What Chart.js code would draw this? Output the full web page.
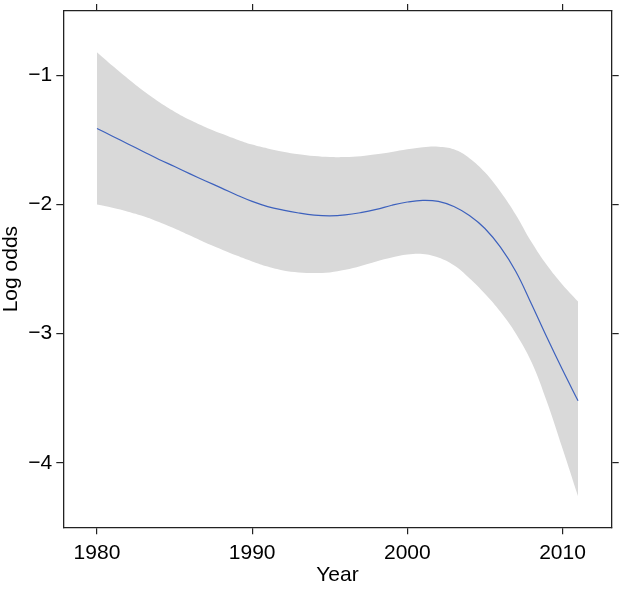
<!DOCTYPE html>
<html>
<head>
<meta charset="utf-8">
<script src="https://cdn.jsdelivr.net/npm/chart.js@4.4.0/dist/chart.umd.min.js"></script>
<style>
html, body { margin: 0; padding: 0; background: #fff; }
#marco { width: 622px; height: 591px; }
</style>
</head>
<body>
<div id="marco"><canvas id="grafica" width="622" height="591"></canvas></div>
<script>
// valores (log odds por año)
var anios = [1980, 1981, 1982, 1983, 1984, 1985, 1986, 1987, 1988, 1989,
             1990, 1991, 1992, 1993, 1994, 1995, 1996, 1997, 1998, 1999,
             2000, 2001, 2002, 2003, 2004, 2005, 2006, 2007, 2008, 2009,
             2010, 2011];
var ajuste = [-1.41, -1.47, -1.53, -1.59, -1.65, -1.705, -1.762, -1.817, -1.87, -1.925,
              -1.975, -2.015, -2.043, -2.065, -2.081, -2.087, -2.08, -2.062, -2.037, -2.005,
              -1.98, -1.967, -1.975, -2.015, -2.085, -2.185, -2.33, -2.52, -2.77, -3.03,
              -3.28, -3.52];
var superior = [-0.82, -0.925, -1.025, -1.12, -1.205, -1.28, -1.345, -1.4, -1.45, -1.495,
                -1.535, -1.565, -1.59, -1.61, -1.624, -1.632, -1.632, -1.625, -1.61, -1.592,
                -1.572, -1.556, -1.552, -1.572, -1.64, -1.75, -1.9, -2.08, -2.29, -2.47,
                -2.62, -2.75];
var inferior = [-2.0, -2.025, -2.055, -2.09, -2.135, -2.185, -2.24, -2.295, -2.345, -2.395,
                -2.44, -2.48, -2.51, -2.525, -2.53, -2.525, -2.505, -2.475, -2.44, -2.41,
                -2.387, -2.382, -2.41, -2.47, -2.57, -2.69, -2.83, -3.0, -3.22, -3.53,
                -3.89, -4.26];
var ticksX = [1980, 1990, 2000, 2010];
var ticksY = [-4, -3, -2, -1];

var fuente = { family: "'Liberation Sans', Arial, sans-serif", size: 21 };
var colorMarco = '#222';

function puntos(valores) {
    return anios.map((a, i) => ({ x: a, y: valores[i] }));
}

function ejeBase(pos, lista, conEtiquetas, tam) {
    var esX = pos === 'bottom' || pos === 'top';
    return {
        type: 'linear',
        position: pos,
        min: esX ? 1977.83 : -4.5,
        max: esX ? 2013.17 : -0.5,
        afterBuildTicks: function (eje) {
            eje.ticks = lista.map(v => ({ value: v }));
        },
        afterFit: function (eje) {
            if (esX) eje.height = tam; else eje.width = tam;
            // sin relleno extra por media etiqueta
            eje.paddingTop = 0;
            eje.paddingBottom = 0;
            eje.paddingLeft = 0;
            eje.paddingRight = 0;
        },
        grid: { drawOnChartArea: false, drawTicks: true, tickLength: 7, color: colorMarco, tickColor: colorMarco, lineWidth: 1.2 },
        border: { display: true, color: colorMarco, width: 1.3 },
        ticks: {
            display: conEtiquetas,
            font: fuente,
            color: '#000',
            padding: esX ? 6 : 4,
            maxRotation: 0,
            autoSkip: false,
            callback: function (v) {
                return v < 0 ? '\u2212' + Math.abs(v) : String(v);
            }
        }
    };
}

var ejeX = ejeBase('bottom', ticksX, true, 63.7);
ejeX.title = { display: true, text: 'Year', font: Object.assign({ lineHeight: 1.1 }, fuente), color: '#000', padding: { top: 0, bottom: 4.5 } };
var ejeY = ejeBase('left', ticksY, true, 63.3);
ejeY.title = { display: true, text: 'Log odds', font: Object.assign({ lineHeight: 1.1 }, fuente), color: '#000', padding: { top: 0, bottom: 0 } };
var ejeX2 = ejeBase('top', ticksX, false, 11);
var ejeY2 = ejeBase('right', ticksY, false, 10.3);

var ctx = document.getElementById('grafica').getContext('2d');
var miGrafica = new Chart(ctx, {
    type: 'line',
    data: {
        datasets: [{
            label: 'Ajuste',
            data: puntos(ajuste),
            borderColor: '#3d61bd',
            borderWidth: 1.2,
            pointRadius: 0,
            fill: false,
            tension: 0.4,
            order: 0
        }, {
            label: 'Superior',
            data: puntos(superior),
            borderWidth: 0,
            borderColor: 'rgba(0,0,0,0)',
            backgroundColor: '#d9d9d9',
            pointRadius: 0,
            fill: '+1',
            tension: 0.4,
            order: 1
        }, {
            label: 'Inferior',
            data: puntos(inferior),
            borderWidth: 0,
            borderColor: 'rgba(0,0,0,0)',
            pointRadius: 0,
            fill: false,
            tension: 0.4,
            order: 2
        }]
    },
    options: {
        responsive: false,
        animation: false,
        layout: { padding: 0 },
        plugins: { legend: { display: false }, tooltip: { enabled: false } },
        scales: {
            x: ejeX,
            y: ejeY,
            x2: ejeX2,
            y2: ejeY2
        }
    }
});
</script>
</body>
</html>
